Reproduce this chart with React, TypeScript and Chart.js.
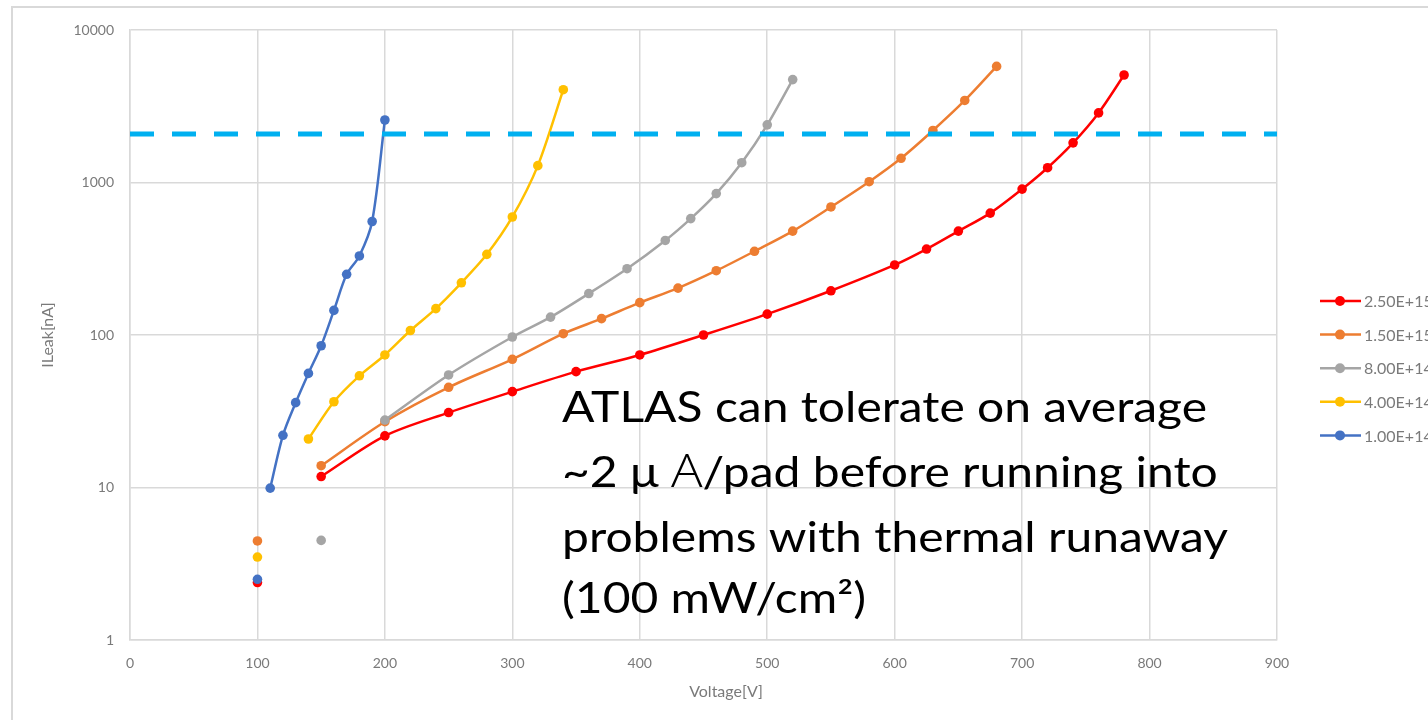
import { useEffect, useRef } from 'react';
import { Chart, registerables } from 'chart.js';

Chart.register(...registerables);

// ---- data ----
const seriesLabels = ['2.50E+15', '1.50E+15', '8.00E+14', '4.00E+14', '1.00E+14'];
const seriesColors = ['#ff0000', '#ed7d31', '#a5a5a5', '#ffc000', '#4472c4'];

// isolated first measurement of each series (not joined to its curve)
const isolatedVolts = [100, 100, 150, 100, 100];
const isolatedLeak = [2.38, 4.46, 4.5, 3.5, 2.5];

const redVolts = [150, 200, 250, 300, 350, 400, 450, 500, 550, 600, 625, 650, 675, 700, 720, 740, 760, 780];
const redLeak = [11.8, 21.8, 31, 42.5, 57.5, 74, 100, 137, 195, 288, 366, 480, 630, 905, 1250, 1820, 2860, 5070];

const orangeVolts = [150, 200, 250, 300, 340, 370, 400, 430, 460, 490, 520, 550, 580, 605, 630, 655, 680];
const orangeLeak = [13.9, 27, 45.4, 69.3, 102, 128, 163, 203, 264, 354, 480, 691, 1012, 1441, 2193, 3451, 5770];

const grayVolts = [200, 250, 300, 330, 360, 390, 420, 440, 460, 480, 500, 520];
const grayLeak = [27.7, 54.7, 97, 131, 187, 272, 417, 580, 846, 1348, 2388, 4730];

const yellowVolts = [140, 160, 180, 200, 220, 240, 260, 280, 300, 320, 340];
const yellowLeak = [20.8, 36.5, 54, 74, 107, 149, 220, 338, 594, 1290, 4060];

const blueVolts = [110, 120, 130, 140, 150, 160, 170, 180, 190, 200];
const blueLeak = [9.9, 22, 36, 56, 85, 145, 250, 330, 555, 2570];

const thresholdVolts = [0, 900];
const thresholdLeak = [2080, 2080];

const yTicks = [1, 10, 100, 1000, 10000];
const xMin = 0;
const xMax = 900;
const xStep = 100;

const xTitle = 'Voltage[V]';
const yTitle = 'ILeak[nA]';

const noteLines = [
  ['ATLAS can tolerate on average'],
  ['~2 \u03bc ', 'A', '/pad before running into'],
  ['problems with thermal runaway'],
  ['(100 mW/cm\u00b2)'],
];

const curveVolts = [redVolts, orangeVolts, grayVolts, yellowVolts, blueVolts];
const curveLeak = [redLeak, orangeLeak, grayLeak, yellowLeak, blueLeak];

const TICK_COLOR = '#7a7a7a';
const GRID_COLOR = '#d9d9d9';

const overlayPlugin = {
  id: 'overlay',
  afterDraw(chart: any) {
    const ctx = chart.ctx as CanvasRenderingContext2D;
    ctx.save();
    // x-axis title
    ctx.fillStyle = TICK_COLOR;
    ctx.font = '16px Lato';
    ctx.textAlign = 'center';
    ctx.textBaseline = 'middle';
    ctx.fillText(xTitle, 726, 692);

    // legend
    ctx.textAlign = 'left';
    ctx.font = '16px Lato';
    seriesLabels.forEach((label, i) => {
      const y = 301 + i * 33.6;
      ctx.strokeStyle = seriesColors[i];
      ctx.lineWidth = 2.5;
      ctx.beginPath();
      ctx.moveTo(1320, y);
      ctx.lineTo(1361, y);
      ctx.stroke();
      ctx.fillStyle = seriesColors[i];
      ctx.beginPath();
      ctx.arc(1340, y, 5, 0, Math.PI * 2);
      ctx.fill();
      ctx.fillStyle = TICK_COLOR;
      ctx.fillText(label, 1364, y + 1);
    });

    // annotation text
    ctx.fillStyle = '#000';
    ctx.textBaseline = 'alphabetic';
    const mainFont = '42px Lato';
    const altFont = '300 46px "Open Sans"';
    ctx.font = mainFont;
    const sx = 645 / ctx.measureText(noteLines[0][0]).width;
    const baselines = [422, 487, 552, 613];
    noteLines.forEach((parts, li) => {
      ctx.save();
      ctx.translate(562, baselines[li]);
      ctx.scale(sx, 1);
      let x = 0;
      parts.forEach((p, pi) => {
        ctx.font = li === 1 && pi === 1 ? altFont : mainFont;
        ctx.fillText(p, x, 0);
        x += ctx.measureText(p).width;
      });
      ctx.restore();
    });
    ctx.restore();
  },
};

export default function App() {
  const ref = useRef<HTMLCanvasElement>(null);

  useEffect(() => {
    const canvas = ref.current;
    if (!canvas) return;

    const seriesDatasets = seriesLabels.map((label, i) => ({
      label,
      data: [
        { x: isolatedVolts[i], y: isolatedLeak[i] },
        { x: isolatedVolts[i], y: null },
        ...curveVolts[i].map((v, j) => ({ x: v, y: curveLeak[i][j] })),
      ],
      borderColor: seriesColors[i],
      backgroundColor: seriesColors[i],
      pointBackgroundColor: seriesColors[i],
      pointBorderColor: seriesColors[i],
      pointBorderWidth: 0,
      pointRadius: 4.8,
      borderWidth: 2.5,
      tension: 0.3,
      spanGaps: false,
      order: seriesLabels.length - i,
    }));

    const thresholdDataset = {
      label: 'threshold',
      data: thresholdVolts.map((v, j) => ({ x: v, y: thresholdLeak[j] })),
      borderColor: '#00b0f0',
      borderWidth: 5,
      borderDash: [24, 18],
      borderCapStyle: 'butt',
      pointRadius: 0,
      tension: 0,
      order: 0,
    };

    const chart = new Chart(canvas, {
      type: 'line',
      data: { datasets: [...seriesDatasets, thresholdDataset] as any },
      plugins: [overlayPlugin],
      options: {
        responsive: false,
        devicePixelRatio: 1,
        animation: false,
        layout: { padding: { left: 0, top: 30, right: 151, bottom: 0 } },
        plugins: { legend: { display: false }, tooltip: { enabled: false } },
        scales: {
          x: {
            type: 'linear',
            min: xMin,
            max: xMax,
            ticks: {
              stepSize: xStep,
              padding: 15,
              color: TICK_COLOR,
              font: { family: 'Lato', size: 14 },
              maxRotation: 0,
            },
            grid: { color: GRID_COLOR, lineWidth: 1.5, drawTicks: false },
            border: { color: GRID_COLOR, width: 1.5 },
            afterFit: (s: any) => {
              s.height = 80;
            },
          },
          y: {
            type: 'logarithmic',
            min: yTicks[0],
            max: yTicks[yTicks.length - 1],
            afterBuildTicks: (s: any) => {
              s.ticks = yTicks.map((v) => ({ value: v }));
            },
            ticks: {
              autoSkip: false,
              padding: 16,
              color: TICK_COLOR,
              font: { family: 'Lato', size: 14 },
              callback: (v: any) => String(v),
            },
            grid: { color: GRID_COLOR, lineWidth: 1.5, drawTicks: false },
            border: { color: GRID_COLOR, width: 1.5 },
            title: {
              display: true,
              text: yTitle,
              color: TICK_COLOR,
              font: { family: 'Lato', size: 16 },
              padding: { top: 38, bottom: 0 },
            },
            afterFit: (s: any) => {
              s.width = 130;
            },
          },
        },
      } as any,
    });
    return () => chart.destroy();
  }, []);

  return (
    <div
      style={{
        position: 'absolute',
        left: 0,
        top: 0,
        width: 1428,
        height: 720,
        overflow: 'hidden',
        background: '#fff',
      }}
    >
      <div
        style={{
          position: 'absolute',
          left: 11,
          top: 6,
          width: 1700,
          height: 900,
          border: '2px solid #d9d9d9',
          boxSizing: 'border-box',
        }}
      />
      <canvas
        ref={ref}
        width={1428}
        height={720}
        style={{ position: 'absolute', left: 0, top: 0, width: 1428, height: 720 }}
      />
    </div>
  );
}
